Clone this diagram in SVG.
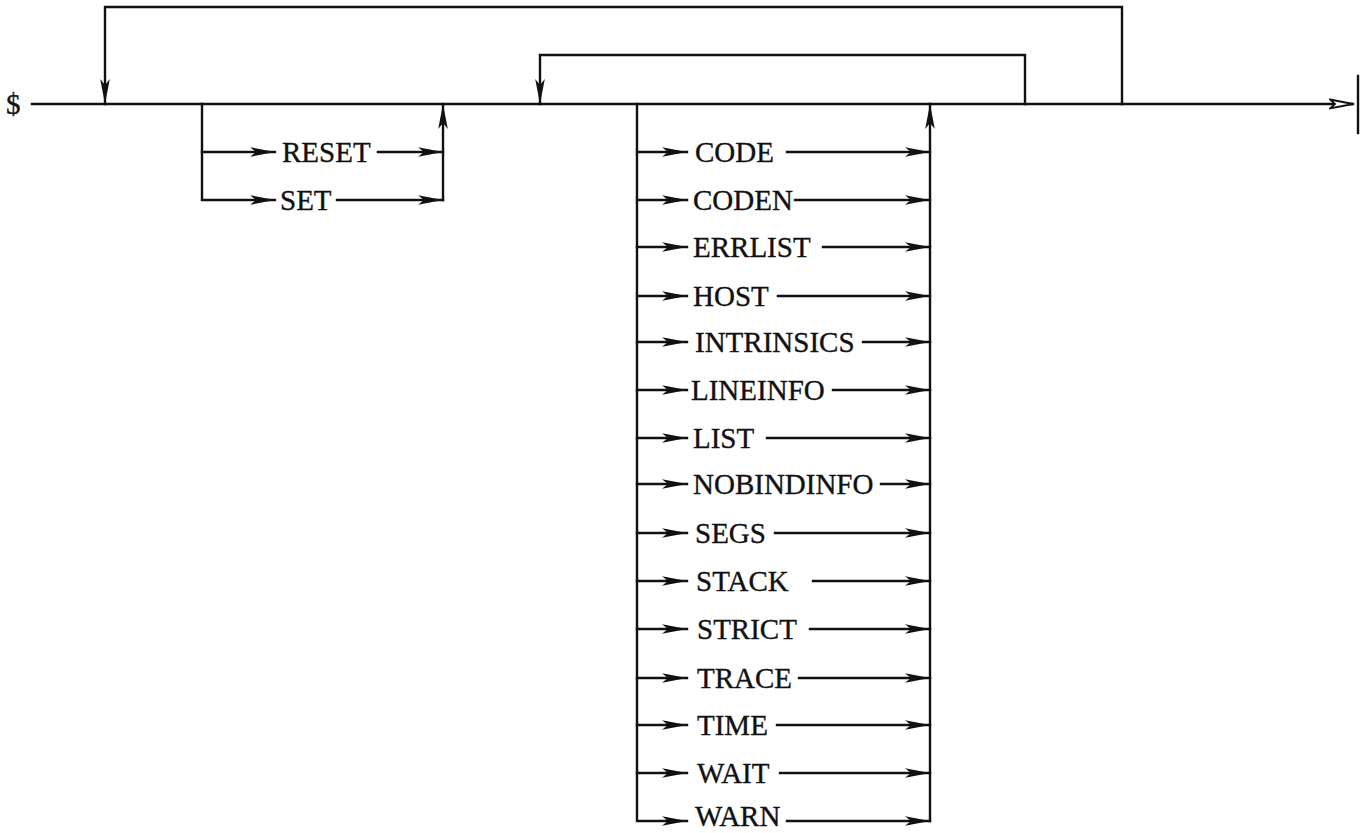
<svg xmlns="http://www.w3.org/2000/svg" width="1361" height="833" viewBox="0 0 1361 833">
<style>
.ln{fill:none;stroke:#111;stroke-width:2.4;stroke-linecap:square}
.lb{font-family:"Liberation Serif","Times New Roman",serif;font-size:29px;fill:#111;stroke:#111;stroke-width:0.35}
</style>
<defs>
<marker id="ah" viewBox="0 -6 26 12" refX="25" refY="0" markerWidth="26" markerHeight="12" markerUnits="userSpaceOnUse" orient="auto">
<path d="M0,-4.8 L25,0 L0,4.8 L6,0 Z" fill="#111"/>
</marker>
<marker id="ahOpen" viewBox="0 -6 26 12" refX="24" refY="0" markerWidth="26" markerHeight="12" markerUnits="userSpaceOnUse" orient="auto">
<path d="M1,-4.5 L24,0 L1,4.5 L6,0 Z" fill="#fff" stroke="#111" stroke-width="1.8"/>
</marker>
</defs>
<rect width="1361" height="833" fill="#fff"/>
<g id="connectors">
<path class="ln" d="M32,104 H1353" marker-end="url(#ahOpen)"/>
<path class="ln" d="M1358,76 V133" stroke-width="2.8"/>
<path class="ln" d="M1122,104 V7 H105 V104" marker-end="url(#ah)"/>
<path class="ln" d="M1025,104 V55 H540 V104" marker-end="url(#ah)"/>
<path class="ln" d="M202,104 V200 H275" marker-end="url(#ah)"/>
<path class="ln" d="M202,152 H275" marker-end="url(#ah)"/>
<path class="ln" d="M378,152 H443" marker-end="url(#ah)"/>
<path class="ln" d="M337,200 H443" marker-end="url(#ah)"/>
<path class="ln" d="M443,200 V104" marker-end="url(#ah)"/>
<path class="ln" d="M637,104 V821 H687" marker-end="url(#ah)"/>
<path class="ln" d="M930,821 V104" marker-end="url(#ah)"/>
<path class="ln" d="M637,152 H687" marker-end="url(#ah)"/>
<path class="ln" d="M637,200 H687" marker-end="url(#ah)"/>
<path class="ln" d="M637,247 H687" marker-end="url(#ah)"/>
<path class="ln" d="M637,296 H687" marker-end="url(#ah)"/>
<path class="ln" d="M637,342 H687" marker-end="url(#ah)"/>
<path class="ln" d="M637,390 H687" marker-end="url(#ah)"/>
<path class="ln" d="M637,438 H687" marker-end="url(#ah)"/>
<path class="ln" d="M637,484 H687" marker-end="url(#ah)"/>
<path class="ln" d="M637,533 H687" marker-end="url(#ah)"/>
<path class="ln" d="M637,581 H687" marker-end="url(#ah)"/>
<path class="ln" d="M637,629 H687" marker-end="url(#ah)"/>
<path class="ln" d="M637,678 H687" marker-end="url(#ah)"/>
<path class="ln" d="M637,725 H687" marker-end="url(#ah)"/>
<path class="ln" d="M637,773 H687" marker-end="url(#ah)"/>
<path class="ln" d="M787,152 H930" marker-end="url(#ah)"/>
<path class="ln" d="M795,200 H930" marker-end="url(#ah)"/>
<path class="ln" d="M823,247 H930" marker-end="url(#ah)"/>
<path class="ln" d="M778,296 H930" marker-end="url(#ah)"/>
<path class="ln" d="M863,342 H930" marker-end="url(#ah)"/>
<path class="ln" d="M833,390 H930" marker-end="url(#ah)"/>
<path class="ln" d="M767,438 H930" marker-end="url(#ah)"/>
<path class="ln" d="M881,484 H930" marker-end="url(#ah)"/>
<path class="ln" d="M775,533 H930" marker-end="url(#ah)"/>
<path class="ln" d="M813,581 H930" marker-end="url(#ah)"/>
<path class="ln" d="M810,629 H930" marker-end="url(#ah)"/>
<path class="ln" d="M799,678 H930" marker-end="url(#ah)"/>
<path class="ln" d="M777,725 H930" marker-end="url(#ah)"/>
<path class="ln" d="M780,773 H930" marker-end="url(#ah)"/>
<path class="ln" d="M787,821 H930" marker-end="url(#ah)"/>
</g>
<g id="n-dollar"><text class="lb" x="6" y="114">$</text></g>
<g id="n-reset"><text class="lb" x="282" y="162">RESET</text></g>
<g id="n-set"><text class="lb" x="280" y="210">SET</text></g>
<g id="n-code"><text class="lb" x="695" y="162">CODE</text></g>
<g id="n-coden"><text class="lb" x="693" y="210">CODEN</text></g>
<g id="n-errlist"><text class="lb" x="693" y="257">ERRLIST</text></g>
<g id="n-host"><text class="lb" x="693" y="306">HOST</text></g>
<g id="n-intrinsics"><text class="lb" x="695" y="352">INTRINSICS</text></g>
<g id="n-lineinfo"><text class="lb" x="691" y="400">LINEINFO</text></g>
<g id="n-list"><text class="lb" x="693" y="448">LIST</text></g>
<g id="n-nobindinfo"><text class="lb" x="693" y="494">NOBINDINFO</text></g>
<g id="n-segs"><text class="lb" x="695" y="543">SEGS</text></g>
<g id="n-stack"><text class="lb" x="696" y="591">STACK</text></g>
<g id="n-strict"><text class="lb" x="697" y="639">STRICT</text></g>
<g id="n-trace"><text class="lb" x="697" y="688">TRACE</text></g>
<g id="n-time"><text class="lb" x="697" y="735">TIME</text></g>
<g id="n-wait"><text class="lb" x="697" y="783">WAIT</text></g>
<g id="n-warn"><text class="lb" x="695" y="826">WARN</text></g>
</svg>
